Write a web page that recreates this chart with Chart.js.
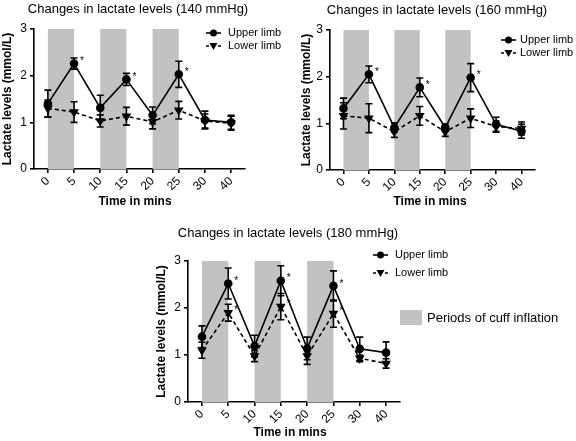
<!DOCTYPE html>
<html>
<head>
<meta charset="utf-8">
<script src="https://cdn.jsdelivr.net/npm/chart.js@4.4.0/dist/chart.umd.min.js"></script>
<style>
  body { margin: 0; background: #fff; }
  #wrap { position: relative; width: 576px; height: 441px; overflow: hidden; }
  canvas { position: absolute; }
</style>
</head>
<body>
<div id="wrap">
  <canvas id="c140" style="left:0;top:0;"></canvas>
  <canvas id="c160" style="left:288px;top:0;"></canvas>
  <canvas id="c180" style="left:150px;top:200px;"></canvas>
</div>
<script>
'use strict';

// time points (mins)
const times = ['0', '5', '10', '15', '20', '25', '30', '40'];
const yTicks = [0, 1, 2, 3];
// cuff inflation periods, as index pairs into times
const cuffPeriods = [[0, 1], [2, 3], [4, 5]];

// 140 mmHg
const upper140 = [1.40, 2.26, 1.31, 1.92, 1.15, 2.03, 1.05, 1.00];
const upperErr140 = [0.29, 0.12, 0.27, 0.13, 0.18, 0.28, 0.19, 0.15];
const lower140 = [1.30, 1.22, 1.03, 1.13, 1.01, 1.26, 1.03, 0.98];
const lowerErr140 = [0.18, 0.22, 0.13, 0.19, 0.15, 0.19, 0.15, 0.15];
const stars140 = { upper: [1, 3, 5], lower: [] };

// 160 mmHg
const upper160 = [1.32, 2.05, 0.91, 1.77, 0.91, 1.98, 0.98, 0.83];
const upperErr160 = [0.22, 0.18, 0.10, 0.20, 0.08, 0.30, 0.15, 0.15];
const lower160 = [1.16, 1.11, 0.82, 1.16, 0.82, 1.11, 0.93, 0.89];
const lowerErr160 = [0.28, 0.31, 0.12, 0.20, 0.10, 0.20, 0.12, 0.14];
const stars160 = { upper: [1, 3, 5], lower: [] };

// 180 mmHg
const upper180 = [1.39, 2.52, 1.19, 2.58, 1.14, 2.47, 1.13, 1.05];
const upperErr180 = [0.23, 0.33, 0.23, 0.32, 0.24, 0.32, 0.25, 0.23];
const lower180 = [1.10, 1.90, 0.98, 2.03, 0.98, 1.88, 0.93, 0.82];
const lowerErr180 = [0.17, 0.18, 0.12, 0.28, 0.18, 0.29, 0.07, 0.10];
const stars180 = { upper: [1, 3, 5], lower: [1, 3, 5] };

const FONT = "'Liberation Sans', Arial, sans-serif";

// bands, error bars, stars, titles, legend
const deco = {
  id: 'deco',
  beforeDatasetsDraw(chart) {
    const ctx = chart.ctx, x = chart.scales.x, y = chart.scales.y;
    ctx.save();
    ctx.fillStyle = '#c2c2c2';
    cuffPeriods.forEach(p => {
      const x0 = x.getPixelForValue(p[0]), x1 = x.getPixelForValue(p[1]);
      const yt = y.getPixelForValue(3), yb = y.getPixelForValue(0);
      ctx.fillRect(x0, yt, x1 - x0, yb - yt);
    });
    ctx.restore();
  },
  afterDatasetsDraw(chart, args, o) {
    const ctx = chart.ctx, x = chart.scales.x, y = chart.scales.y;
    ctx.save();
    ctx.strokeStyle = '#000';
    ctx.fillStyle = '#000';
    ctx.lineWidth = 1.6;
    chart.data.datasets.forEach(ds => {
      ds.vals.forEach((v, i) => {
        const e = ds.err[i];
        const px = x.getPixelForValue(i);
        const yt = y.getPixelForValue(v + e), yb = y.getPixelForValue(v - e);
        ctx.beginPath();
        ctx.moveTo(px, yt); ctx.lineTo(px, yb);
        ctx.moveTo(px - 3.5, yt); ctx.lineTo(px + 3.5, yt);
        ctx.moveTo(px - 3.5, yb); ctx.lineTo(px + 3.5, yb);
        ctx.stroke();
      });
      ctx.font = '10px ' + FONT;
      ctx.textAlign = 'left';
      ctx.textBaseline = 'middle';
      ds.stars.forEach(i => {
        ctx.fillText('*', x.getPixelForValue(i) + 6, y.getPixelForValue(ds.vals[i]) - 2);
      });
    });

    // title
    ctx.textBaseline = 'middle';
    ctx.textAlign = 'center';
    ctx.font = '13px ' + FONT;
    ctx.fillText(o.title, o.titleX, o.titleY);
    // axis titles
    ctx.font = 'bold 12px ' + FONT;
    ctx.fillText('Time in mins', o.xTitleX, o.xTitleY);
    ctx.save();
    ctx.translate(o.yTitleX, (chart.chartArea.top + chart.chartArea.bottom) / 2);
    ctx.rotate(-Math.PI / 2);
    ctx.fillText('Lactate levels (mmol/L)', 0, 0);
    ctx.restore();

    // legend
    const L = o.legend;
    ctx.font = '11px ' + FONT;
    ctx.textAlign = 'left';
    ctx.beginPath(); ctx.moveTo(L.x, L.y); ctx.lineTo(L.x + 15, L.y); ctx.stroke();
    ctx.beginPath(); ctx.arc(L.x + 7.5, L.y, 3.5, 0, Math.PI * 2); ctx.fill();
    ctx.fillText('Upper limb', L.x + L.tx, L.y);
    const ly = L.y + L.gap;
    ctx.setLineDash([3, 3]);
    ctx.beginPath(); ctx.moveTo(L.x, ly); ctx.lineTo(L.x + 15, ly); ctx.stroke();
    ctx.setLineDash([]);
    ctx.beginPath();
    ctx.moveTo(L.x + 3.5, ly - 3); ctx.lineTo(L.x + 11.5, ly - 3); ctx.lineTo(L.x + 7.5, ly + 4);
    ctx.closePath(); ctx.fill();
    ctx.fillText('Lower limb', L.x + L.tx, ly);

    if (o.cuff) {
      ctx.fillStyle = '#c2c2c2';
      ctx.fillRect(o.cuff.x, o.cuff.y, 22, 15);
      ctx.fillStyle = '#000';
      ctx.font = '13px ' + FONT;
      ctx.fillText('Periods of cuff inflation', o.cuff.x + 27, o.cuff.y + 8);
    }
    ctx.restore();
  }
};

function makeDataset(label, vals, err, stars, extra) {
  return Object.assign({
    label: label,
    data: vals.map((v, i) => ({ x: i, y: v })),
    vals: vals,
    err: err,
    stars: stars,
    borderColor: '#000',
    backgroundColor: '#000',
    borderWidth: 1.6,
    tension: 0
  }, extra);
}

function makeChart(id, w, h, area, upper, upperErr, lower, lowerErr, stars, decoOpts) {
  const cv = document.getElementById(id);
  cv.width = w; cv.height = h;
  cv.style.width = w + 'px'; cv.style.height = h + 'px';
  return new Chart(cv, {
    type: 'line',
    data: {
      datasets: [
        makeDataset('Upper limb', upper, upperErr, stars.upper,
          { pointStyle: 'circle', pointRadius: 3.5 }),
        makeDataset('Lower limb', lower, lowerErr, stars.lower,
          { borderDash: [4, 3], pointStyle: 'triangle', pointRotation: 180, pointRadius: 4 })
      ]
    },
    options: {
      responsive: false,
      animation: false,
      devicePixelRatio: 1,
      layout: { padding: { left: 0, top: area.top, right: w - area.right, bottom: 0 } },
      plugins: { legend: { display: false }, tooltip: { enabled: false }, deco: decoOpts },
      scales: {
        x: {
          type: 'linear',
          min: -0.53, max: 7.53,
          afterFit(s) { s.height = h - area.bottom; },
          border: { color: '#000', width: 1.6 },
          grid: { drawOnChartArea: false, color: '#000', tickLength: 4, lineWidth: 1.6 },
          ticks: {
            stepSize: 1, includeBounds: false, autoSkip: false,
            minRotation: 45, maxRotation: 45,
            color: '#000', font: { family: FONT, size: 12 }, padding: 1,
            callback: v => times[v] !== undefined ? times[v] : null
          }
        },
        y: {
          min: yTicks[0], max: yTicks[yTicks.length - 1],
          afterFit(s) { s.width = area.left; },
          border: { color: '#000', width: 1.6 },
          grid: { drawOnChartArea: false, color: '#000', tickLength: 4, lineWidth: 1.6 },
          ticks: { stepSize: 1, color: '#000', font: { family: FONT, size: 12 }, padding: 3 }
        }
      }
    },
    plugins: [deco]
  });
}

makeChart('c140', 288, 210, { left: 34, right: 245, top: 29, bottom: 169 },
  upper140, upperErr140, lower140, lowerErr140, stars140, {
    title: 'Changes in lactate levels (140 mmHg)', titleX: 138, titleY: 9,
    xTitleX: 135, xTitleY: 202, yTitleX: 8,
    legend: { x: 206, y: 33, gap: 13, tx: 22 }
  });

makeChart('c160', 288, 210, { left: 42, right: 247, top: 30, bottom: 170 },
  upper160, upperErr160, lower160, lowerErr160, stars160, {
    title: 'Changes in lactate levels (160 mmHg)', titleX: 149, titleY: 10,
    xTitleX: 142, xTitleY: 202, yTitleX: 19,
    legend: { x: 213, y: 40, gap: 13, tx: 19 }
  });

makeChart('c180', 426, 241, { left: 38, right: 250, top: 61, bottom: 202 },
  upper180, upperErr180, lower180, lowerErr180, stars180, {
    title: 'Changes in lactate levels (180 mmHg)', titleX: 138, titleY: 33,
    xTitleX: 140, xTitleY: 233, yTitleX: 12,
    legend: { x: 223, y: 55, gap: 18, tx: 22 },
    cuff: { x: 250, y: 110 }
  });
</script>
</body>
</html>
